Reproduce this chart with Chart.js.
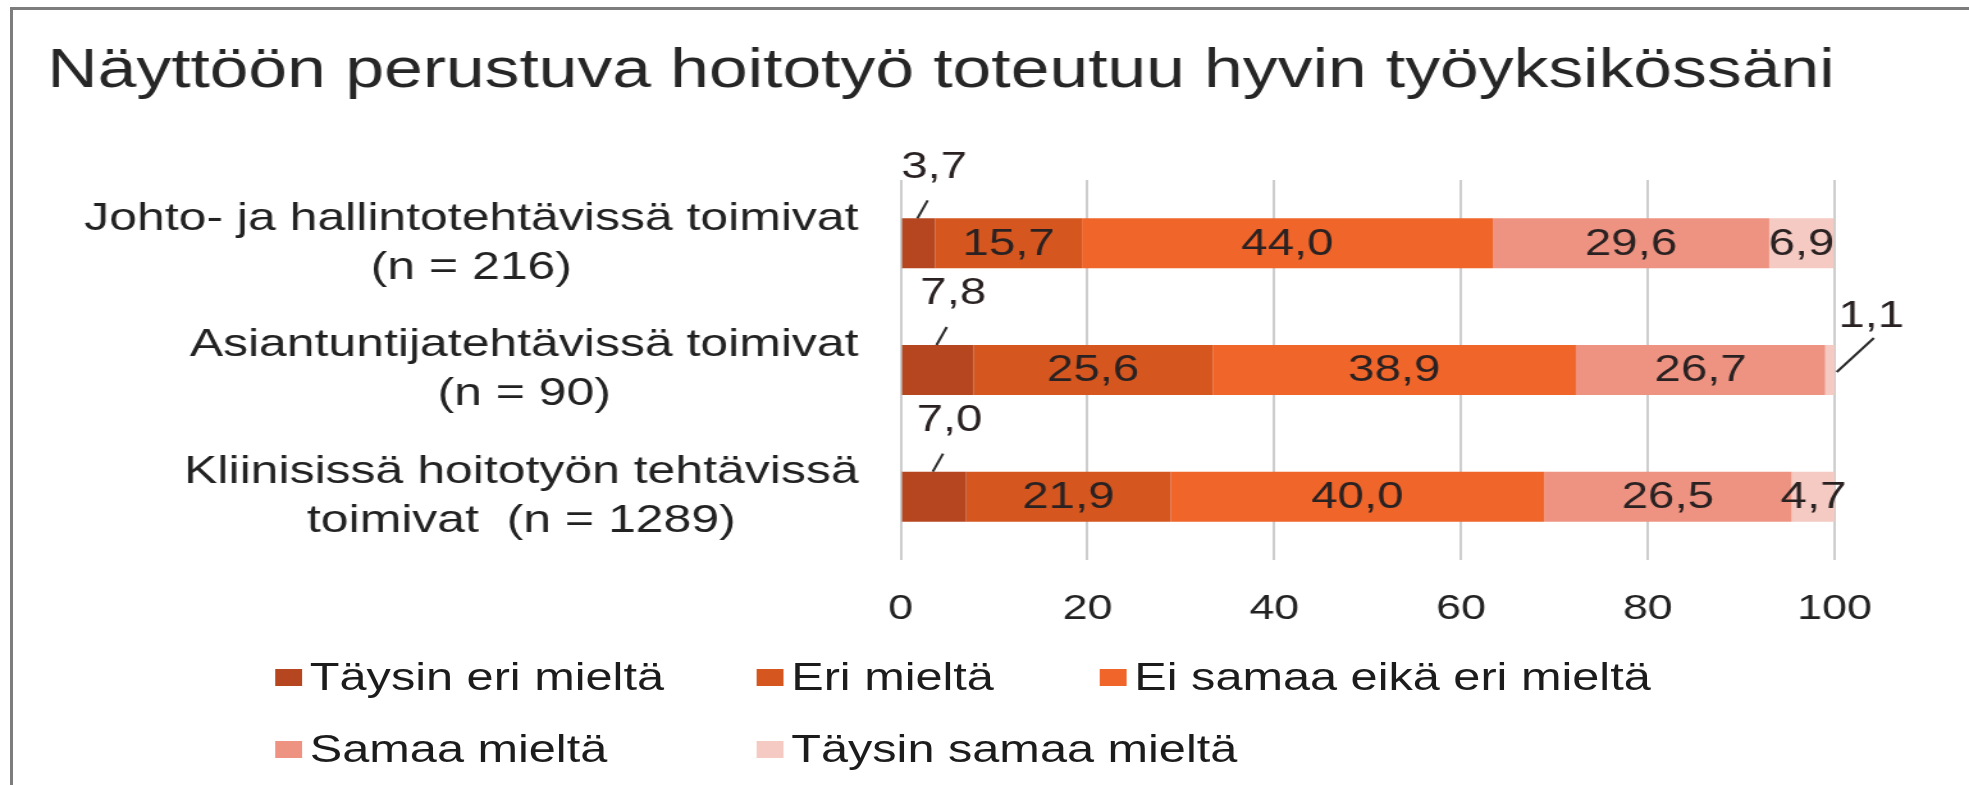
<!DOCTYPE html>
<html>
<head>
<meta charset="utf-8">
<title>Näyttöön perustuva hoitotyö</title>
<script src="https://cdn.jsdelivr.net/npm/chart.js@4.4.1/dist/chart.umd.min.js"></script>
<style>
    body {
        margin: 0;
        width: 1969px;
        height: 785px;
        overflow: hidden;
        position: relative;
        background: #fff;
        font-family: "Liberation Sans", Arial, sans-serif;
    }
    /* grey frame of the original picture (left and top edges only) */
    #frame {
        position: absolute;
        left: 10px;
        top: 7px;
        width: 2000px;
        height: 820px;
        border-left: 3px solid #7d7d7d;
        border-top: 3px solid #7d7d7d;
    }
    /* the original is stretched sideways, so the whole chart is drawn narrow and widened */
    #wrap {
        position: absolute;
        left: 0;
        top: 0;
        width: 1538px;
        height: 785px;
        transform: scaleX(1.28023);
        transform-origin: 0 0;
    }
    #legend {
        position: absolute;
        left: 215px;
        top: 641px;
        display: grid;
        grid-template-columns: 376px 268px auto;
        grid-auto-rows: 72px;
    }
    #legend .item {
        display: flex;
        align-items: center;
        font-size: 38px;
        color: #1c1c1c;
        white-space: nowrap;
    }
    #legend .box {
        display: inline-block;
        flex-shrink: 0;
        width: 21px;
        height: 17px;
        margin-right: 6px;
    }
</style>
</head>
<body>
<div id="frame"></div>
<div id="wrap">
    <canvas id="chart" width="1538" height="785"></canvas>
    <div id="legend"></div>
</div>
<script>
// Chart data
const titleText = 'Näyttöön perustuva hoitotyö toteutuu hyvin työyksikössäni';
const categories = [
    ['Johto- ja hallintotehtävissä toimivat', '(n = 216)'],
    ['Asiantuntijatehtävissä toimivat', '(n = 90)'],
    ['Kliinisissä hoitotyön tehtävissä', 'toimivat  (n = 1289)']
];
const seriesNames = ['Täysin eri mieltä', 'Eri mieltä', 'Ei samaa eikä eri mieltä', 'Samaa mieltä', 'Täysin samaa mieltä'];
const taysinEri = [3.7, 7.8, 7.0];
const eri = [15.7, 25.6, 21.9];
const eiSamaaEikaEri = [44.0, 38.9, 40.0];
const samaa = [29.6, 26.7, 26.5];
const taysinSamaa = [6.9, 1.1, 4.7];
const xTicks = [0, 20, 40, 60, 80, 100];

const seriesColors = ['#b5461f', '#d5571f', '#f0652a', '#ee9381', '#f4cac2'];
const fontFamily = '"Liberation Sans", Arial, sans-serif';

Chart.defaults.font.family = fontFamily;

// Format value with decimal comma
function fmt(v) {
    return v.toFixed(1).replace('.', ',');
}

// Category labels: block right aligned, lines centred inside the block
const groupLabels = {
    id: 'groupLabels',
    afterDraw(chart) {
        const ctx = chart.ctx;
        const yScale = chart.scales.y;
        const right = chart.chartArea.left - 33;
        ctx.save();
        ctx.font = '39px ' + fontFamily;
        ctx.fillStyle = '#222';
        ctx.textAlign = 'center';
        ctx.textBaseline = 'middle';
        chart.data.labels.forEach((lines, i) => {
            const y = yScale.getPixelForTick(i);
            const w = Math.max(...lines.map(l => ctx.measureText(l).width));
            const cx = right - w / 2;
            lines.forEach((line, k) => {
                ctx.fillText(line, cx, y + (k - (lines.length - 1) / 2) * 49);
            });
        });
        ctx.restore();
    }
};

// Value labels inside the bars, small ones outside with a leader line
const valueLabels = {
    id: 'valueLabels',
    afterDatasetsDraw(chart) {
        const ctx = chart.ctx;
        ctx.save();
        ctx.font = '37px ' + fontFamily;
        ctx.fillStyle = '#2a2222';
        ctx.strokeStyle = '#2a2a2a';
        ctx.lineWidth = 2;
        ctx.textAlign = 'center';
        ctx.textBaseline = 'middle';
        chart.data.datasets.forEach((ds, i) => {
            chart.getDatasetMeta(i).data.forEach((bar, j) => {
                const v = ds.data[j];
                const cx = (bar.x + bar.base) / 2;
                const top = bar.y - bar.height / 2;
                if (i === 0) {
                    ctx.beginPath();
                    ctx.moveTo(cx - 1, top);
                    ctx.lineTo(cx + 7, top - 18);
                    ctx.stroke();
                    ctx.fillText(fmt(v), cx + 12, top - 51);
                } else if (v < 2) {
                    ctx.beginPath();
                    ctx.moveTo(cx + 5, bar.y + 2);
                    ctx.lineTo(cx + 34, top - 7);
                    ctx.stroke();
                    ctx.fillText(fmt(v), cx + 32, top - 28);
                } else {
                    ctx.fillText(fmt(v), cx, bar.y + 1);
                }
            });
        });
        ctx.restore();
    }
};

// Legend as a small html grid
const htmlLegend = {
    id: 'htmlLegend',
    afterUpdate(chart) {
        const box = document.getElementById('legend');
        box.innerHTML = '';
        chart.data.datasets.forEach(ds => {
            const item = document.createElement('div');
            item.className = 'item';
            const swatch = document.createElement('span');
            swatch.className = 'box';
            swatch.style.background = ds.backgroundColor;
            const text = document.createElement('span');
            text.textContent = ds.label;
            item.append(swatch, text);
            box.append(item);
        });
    }
};

const seriesValues = [taysinEri, eri, eiSamaaEikaEri, samaa, taysinSamaa];

const ctx = document.getElementById('chart').getContext('2d');
new Chart(ctx, {
    type: 'bar',
    data: {
        labels: categories,
        datasets: seriesNames.map((name, i) => ({
            label: name,
            data: seriesValues[i],
            backgroundColor: seriesColors[i],
            borderWidth: 0,
            categoryPercentage: 1,
            barPercentage: 0.395
        }))
    },
    options: {
        indexAxis: 'y',
        responsive: false,
        animation: false,
        layout: {
            padding: { left: 37, right: 105, top: 0, bottom: 0 }
        },
        plugins: {
            legend: { display: false },
            tooltip: { enabled: false },
            title: {
                display: true,
                text: titleText,
                align: 'start',
                color: '#262626',
                font: { size: 55, weight: 'normal' },
                padding: { top: 39, bottom: 75 }
            }
        },
        scales: {
            x: {
                stacked: true,
                min: xTicks[0],
                max: xTicks[xTicks.length - 1],
                ticks: {
                    stepSize: xTicks[1] - xTicks[0],
                    padding: 28,
                    color: '#222',
                    font: { size: 35 }
                },
                grid: { color: '#cdcdcd', lineWidth: 2, drawTicks: false },
                border: { display: false },
                afterFit: scale => { scale.height = 225; }
            },
            y: {
                stacked: true,
                ticks: { display: false },
                grid: { display: false },
                border: { display: false },
                afterFit: scale => { scale.width = 666.6; }
            }
        }
    },
    plugins: [groupLabels, valueLabels, htmlLegend]
});
</script>
</body>
</html>
